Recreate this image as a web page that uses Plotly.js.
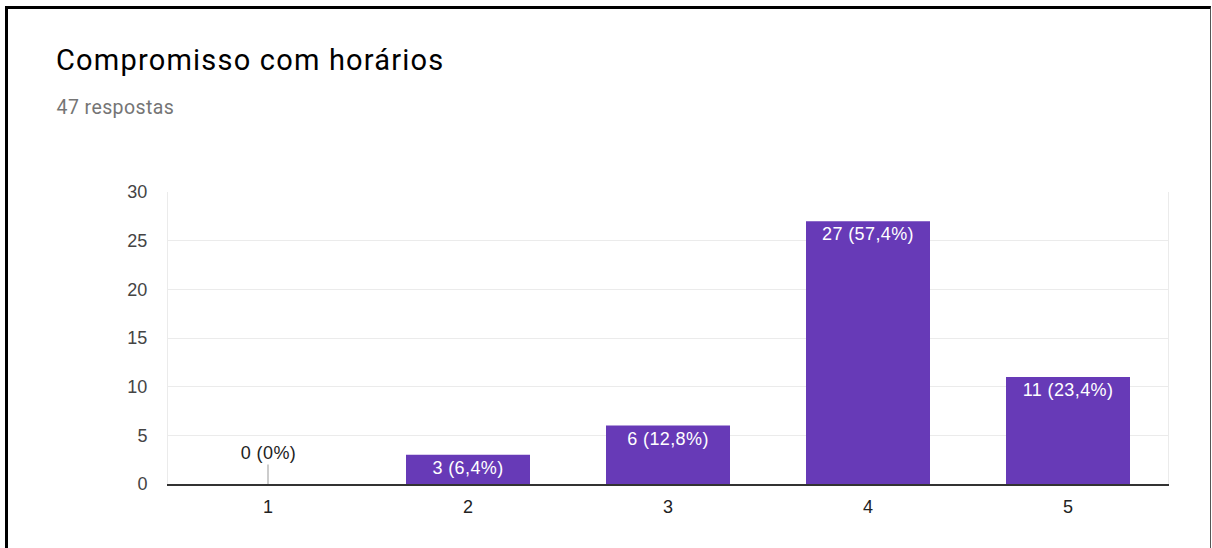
<!DOCTYPE html>
<html>
<head>
<meta charset="utf-8">
<script src="https://cdn.plot.ly/plotly-3.0.1.min.js"></script>
<style>
  html, body { margin: 0; padding: 0; background: #fff; }
  #frame { position: absolute; left: 5px; top: 6px; width: 1202px; height: 560px;
           border-left: 3px solid #000; border-top: 3px solid #000; border-right: 1px solid #555; }
  #chart { position: absolute; left: 0; top: 0; width: 1212px; height: 548px; }
  #chart .gtitle { letter-spacing: 1.2px; }
  #chart text.bartext { letter-spacing: 0.4px; }
  #chart .annotation-text { letter-spacing: 0.4px; }
</style>
</head>
<body>
<div id="frame"></div>
<div id="chart"></div>
<script>
const categories = ['1', '2', '3', '4', '5'];
const counts = [0, 3, 6, 27, 11];
const labels = ['0 (0%)', '3 (6,4%)', '6 (12,8%)', '27 (57,4%)', '11 (23,4%)'];
const yTicks = [0, 5, 10, 15, 20, 25, 30];
const titleText = 'Compromisso com horários';
const subtitleText = '47 respostas';

const barText = counts.map((c, i) => c > 0 ? labels[i] : '');

const trace = {
  type: 'bar',
  x: categories,
  y: counts,
  text: barText,
  textposition: 'inside',
  insidetextanchor: 'end',
  textangle: 0,
  constraintext: 'none',
  textfont: { family: 'Liberation Sans, Arial, sans-serif', size: 18, color: '#ffffff' },
  marker: { color: '#673ab7' },
  hoverinfo: 'none',
  cliponaxis: false
};

const annotations = [{
  xref: 'paper', yref: 'paper',
  x: (57 - 168) / 1000, y: (484 - 107) / 292,
  xanchor: 'left', yanchor: 'middle',
  text: subtitleText, showarrow: false,
  font: { family: 'Roboto, sans-serif', size: 19.5, color: '#757575' }
}];
counts.forEach((c, i) => {
  if (c === 0) {
    annotations.push({
      x: i, y: c, xref: 'x', yref: 'y',
      text: labels[i], showarrow: true, arrowhead: 0, arrowwidth: 1,
      arrowcolor: '#999', ax: 0, ay: -31, standoff: 0,
      font: { family: 'Liberation Sans, Arial, sans-serif', size: 18, color: '#222' }
    });
  }
});

const layout = {
  width: 1212, height: 548,
  margin: { l: 168, r: 44, t: 192, b: 64, pad: 0 },
  paper_bgcolor: 'rgba(0,0,0,0)',
  plot_bgcolor: '#ffffff',
  showlegend: false,
  bargap: 0.38,
  title: {
    text: titleText,
    xref: 'container', yref: 'container',
    x: 56 / 1212, xanchor: 'left',
    y: 1 - 60 / 548, yanchor: 'middle',
    font: { family: 'Roboto, sans-serif', size: 29, color: '#000000' }
  },
  xaxis: {
    type: 'category',
    showgrid: false,
    showline: true, linecolor: '#333333', linewidth: 2,
    ticks: 'outside', ticklen: 5, tickcolor: 'rgba(0,0,0,0)',
    tickfont: { family: 'Liberation Sans, Arial, sans-serif', size: 18, color: '#222222' },
    fixedrange: true
  },
  yaxis: {
    range: [0, 30],
    tickvals: yTicks,
    ticktext: yTicks.map(String),
    showgrid: true, gridcolor: '#ebebeb', gridwidth: 1,
    zeroline: false,
    showline: true, mirror: true, linecolor: '#ebebeb', linewidth: 1,
    ticks: 'outside', ticklen: 16, tickcolor: 'rgba(0,0,0,0)',
    tickfont: { family: 'Liberation Sans, Arial, sans-serif', size: 18, color: '#444444' },
    fixedrange: true
  },
  annotations: annotations
};

Plotly.newPlot('chart', [trace], layout, { displayModeBar: false, staticPlot: true });
</script>
</body>
</html>
